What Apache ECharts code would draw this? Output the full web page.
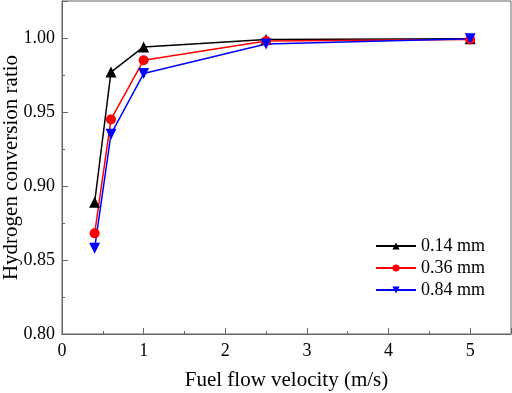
<!DOCTYPE html>
<html>
<head>
<meta charset="utf-8">
<script src="https://cdn.jsdelivr.net/npm/echarts@6/dist/echarts.min.js"></script>
<style>
  html, body { margin: 0; padding: 0; background: #fff; }
  #chart { width: 512px; height: 393px; }
</style>
</head>
<body>
<div id="chart"></div>
<script>
let velocity = [0.4, 0.6, 1, 2.5, 5]
let seriesNames = ['0.14 mm', '0.36 mm', '0.84 mm']
let ratio014 = [0.889, 0.977, 0.994, 0.999, 0.9995]
let ratio036 = [0.868, 0.945, 0.985, 0.998, 0.999]
let ratio084 = [0.858, 0.935, 0.976, 0.996, 0.9995]
let colors = ['#000000', '#ff0000', '#0000ff']
let symbols = ['triangle', 'circle', 'triangle']
let rotations = [0, 0, 180]

let font = 'Liberation Serif, Times New Roman, serif'
let values = [ratio014, ratio036, ratio084]

function pairs(ys) {
  return velocity.map((x, i) => [x, ys[i]])
}

let chart = echarts.init(document.getElementById('chart'))

let option = {
  animation: false,
  backgroundColor: '#fff',
  grid: {
    left: 62, right: 1, top: 1, bottom: 59,
    outerBoundsMode: 'none',
    containLabel: false,
    show: true, borderColor: '#666', borderWidth: 1
  },
  legend: {
    left: 370, top: 232,
    orient: 'vertical',
    itemWidth: 40, itemHeight: 9, itemGap: 4,
    data: seriesNames,
    textStyle: { fontFamily: font, fontSize: 18, color: '#000' }
  },
  xAxis: {
    type: 'value',
    min: 0, max: 5.5, interval: 1,
    name: 'Fuel flow velocity (m/s)',
    nameLocation: 'middle', nameGap: 36,
    nameMoveOverlap: false,
    nameTextStyle: { fontFamily: font, fontSize: 21, color: '#000' },
    axisLine: { lineStyle: { color: '#666' } },
    axisTick: { inside: true, length: 6, lineStyle: { color: '#666' } },
    minorTick: { show: true, splitNumber: 2, length: 3, lineStyle: { color: '#666' } },
    splitLine: { show: false },
    axisLabel: {
      fontFamily: font, fontSize: 18, color: '#000', margin: 8,
      formatter: v => (v > 5 ? '' : v)
    }
  },
  yAxis: {
    type: 'value',
    min: 0.8, max: 1.025, interval: 0.05,
    name: 'Hydrogen conversion ratio',
    nameLocation: 'middle', nameGap: 40,
    nameMoveOverlap: false,
    nameTextStyle: { fontFamily: font, fontSize: 21, color: '#000' },
    axisLine: { lineStyle: { color: '#666' } },
    axisTick: { inside: true, length: 6, lineStyle: { color: '#666' } },
    minorTick: { show: true, splitNumber: 2, length: 3, lineStyle: { color: '#666' } },
    splitLine: { show: false },
    axisLabel: {
      fontFamily: font, fontSize: 18, color: '#000', margin: 7,
      formatter: v => (v > 1.001 ? '' : v.toFixed(2))
    }
  },
  series: seriesNames.map((name, i) => ({
    name: name,
    type: 'line',
    data: pairs(values[i]),
    symbol: symbols[i],
    symbolRotate: rotations[i],
    symbolSize: i === 1 ? 10 : 11,
    color: colors[i],
    lineStyle: { width: 1.5, color: colors[i] },
    itemStyle: { color: colors[i] }
  }))
}

chart.setOption(option)
</script>
</body>
</html>
